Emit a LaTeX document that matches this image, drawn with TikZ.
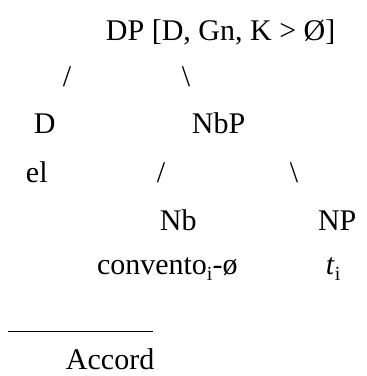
\documentclass[tikz,border=0pt]{standalone}
\usepackage{fontspec}
\setmainfont{Liberation Serif}
\begin{document}
\begin{tikzpicture}[x=1pt,y=-1pt,
  lab/.style={anchor=base west,inner sep=0pt,outer sep=0pt,font=\fontsize{30}{36}\selectfont}]
\useasboundingbox (0,0) rectangle (367,376);
\newcommand{\mysub}[1]{\raisebox{-0.2em}{\fontsize{20}{20}\selectfont #1}}
\node[lab] (dp) at (106,40) {DP [D, Gn, K > Ø]};
\node[lab] (s1) at (63,86) {/};
\node[lab] (s2) at (182,86) {\textbackslash};
\node[lab] (d) at (34,133) {D};
\node[lab] (nbp) at (192,133) {NbP};
\node[lab] (el) at (26,182) {el};
\node[lab] (s3) at (157,182) {/};
\node[lab] (s4) at (290,182) {\textbackslash};
\node[lab] (nb) at (160,230) {Nb};
\node[lab] (np) at (318,230) {NP};
\node[lab] (conv) at (97,274) {convento\mysub{i}-ø};
\node[lab] (ti) at (326,274) {\textit{t}\mysub{i}};
\coordinate (l1) at (8,331);
\coordinate (l2) at (153,331);
\draw[line width=1pt] (l1) -- (l2);
\node[lab] (acc) at (66,369) {Accord};
\end{tikzpicture}
\end{document}
